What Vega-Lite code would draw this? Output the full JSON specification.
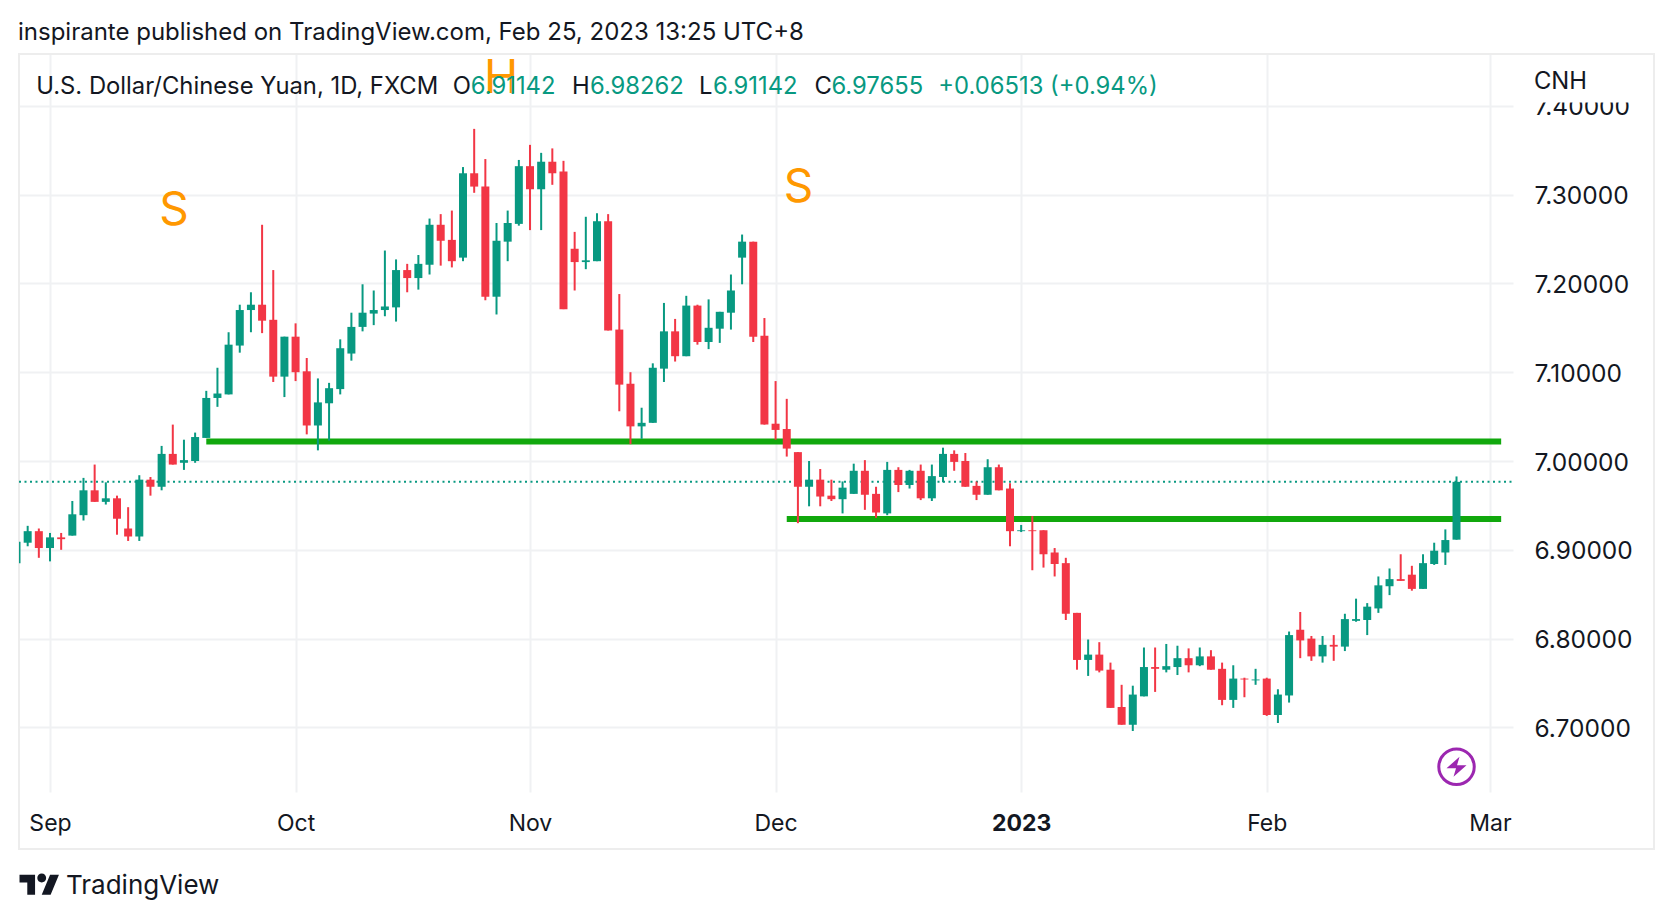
{
  "$schema": "https://vega.github.io/schema/vega-lite/v6.json",
  "autosize": "none",
  "padding": {"left": 19, "top": 54, "right": 161, "bottom": 126},
  "width": 1494,
  "height": 738,
  "background": "white",
  "title": {"text": "inspirante published on TradingView.com, Feb 25, 2023 13:25 UTC+8", "anchor": "start", "offset": 8, "font": "Inter", "fontSize": 24, "fontWeight": "normal", "color": "#131722"},
  "datasets": {
    "candles": [
      {"bar":-3,"open":6.885,"high":6.909,"low":6.885,"close":6.909},
      {"bar":-2,"open":6.908,"high":6.927,"low":6.904,"close":6.921},
      {"bar":-1,"open":6.921,"high":6.924,"low":6.891,"close":6.902},
      {"bar":0,"open":6.902,"high":6.919,"low":6.887,"close":6.914},
      {"bar":1,"open":6.914,"high":6.919,"low":6.900,"close":6.912},
      {"bar":2,"open":6.916,"high":6.955,"low":6.916,"close":6.940},
      {"bar":3,"open":6.939,"high":6.981,"low":6.933,"close":6.967},
      {"bar":4,"open":6.967,"high":6.996,"low":6.954,"close":6.954},
      {"bar":5,"open":6.954,"high":6.976,"low":6.951,"close":6.958},
      {"bar":6,"open":6.958,"high":6.961,"low":6.917,"close":6.935},
      {"bar":7,"open":6.924,"high":6.948,"low":6.910,"close":6.915},
      {"bar":8,"open":6.915,"high":6.984,"low":6.910,"close":6.979},
      {"bar":9,"open":6.979,"high":6.982,"low":6.961,"close":6.971},
      {"bar":10,"open":6.971,"high":7.017,"low":6.967,"close":7.008},
      {"bar":11,"open":7.008,"high":7.041,"low":6.996,"close":6.996},
      {"bar":12,"open":6.998,"high":7.024,"low":6.990,"close":7.001},
      {"bar":13,"open":7.000,"high":7.032,"low":6.998,"close":7.027},
      {"bar":14,"open":7.026,"high":7.079,"low":7.026,"close":7.071},
      {"bar":15,"open":7.071,"high":7.105,"low":7.061,"close":7.076},
      {"bar":16,"open":7.075,"high":7.145,"low":7.075,"close":7.131},
      {"bar":17,"open":7.130,"high":7.176,"low":7.122,"close":7.170},
      {"bar":18,"open":7.170,"high":7.190,"low":7.145,"close":7.176},
      {"bar":19,"open":7.176,"high":7.266,"low":7.144,"close":7.158},
      {"bar":20,"open":7.159,"high":7.215,"low":7.089,"close":7.095},
      {"bar":21,"open":7.095,"high":7.140,"low":7.072,"close":7.140},
      {"bar":22,"open":7.140,"high":7.155,"low":7.090,"close":7.100},
      {"bar":23,"open":7.101,"high":7.116,"low":7.030,"close":7.040},
      {"bar":24,"open":7.040,"high":7.093,"low":7.012,"close":7.066},
      {"bar":25,"open":7.065,"high":7.088,"low":7.023,"close":7.082},
      {"bar":26,"open":7.081,"high":7.137,"low":7.075,"close":7.127},
      {"bar":27,"open":7.121,"high":7.167,"low":7.113,"close":7.151},
      {"bar":28,"open":7.151,"high":7.199,"low":7.146,"close":7.167},
      {"bar":29,"open":7.166,"high":7.192,"low":7.153,"close":7.170},
      {"bar":30,"open":7.170,"high":7.237,"low":7.163,"close":7.174},
      {"bar":31,"open":7.173,"high":7.227,"low":7.157,"close":7.215},
      {"bar":32,"open":7.215,"high":7.222,"low":7.190,"close":7.206},
      {"bar":33,"open":7.206,"high":7.232,"low":7.193,"close":7.222},
      {"bar":34,"open":7.221,"high":7.273,"low":7.210,"close":7.266},
      {"bar":35,"open":7.266,"high":7.278,"low":7.220,"close":7.248},
      {"bar":36,"open":7.249,"high":7.282,"low":7.218,"close":7.225},
      {"bar":37,"open":7.229,"high":7.331,"low":7.225,"close":7.324},
      {"bar":38,"open":7.324,"high":7.374,"low":7.302,"close":7.309},
      {"bar":39,"open":7.309,"high":7.340,"low":7.181,"close":7.185},
      {"bar":40,"open":7.185,"high":7.268,"low":7.165,"close":7.248},
      {"bar":41,"open":7.247,"high":7.282,"low":7.225,"close":7.268},
      {"bar":42,"open":7.267,"high":7.339,"low":7.265,"close":7.332},
      {"bar":43,"open":7.332,"high":7.356,"low":7.260,"close":7.306},
      {"bar":44,"open":7.306,"high":7.347,"low":7.260,"close":7.337},
      {"bar":45,"open":7.337,"high":7.352,"low":7.311,"close":7.324},
      {"bar":46,"open":7.326,"high":7.338,"low":7.171,"close":7.171},
      {"bar":47,"open":7.239,"high":7.258,"low":7.192,"close":7.224},
      {"bar":48,"open":7.224,"high":7.275,"low":7.216,"close":7.226},
      {"bar":49,"open":7.225,"high":7.279,"low":7.225,"close":7.270},
      {"bar":50,"open":7.270,"high":7.278,"low":7.147,"close":7.147},
      {"bar":51,"open":7.148,"high":7.188,"low":7.056,"close":7.086},
      {"bar":52,"open":7.087,"high":7.100,"low":7.019,"close":7.039},
      {"bar":53,"open":7.039,"high":7.060,"low":7.025,"close":7.043},
      {"bar":54,"open":7.043,"high":7.110,"low":7.043,"close":7.105},
      {"bar":55,"open":7.104,"high":7.178,"low":7.089,"close":7.146},
      {"bar":56,"open":7.146,"high":7.160,"low":7.112,"close":7.118},
      {"bar":57,"open":7.118,"high":7.186,"low":7.118,"close":7.175},
      {"bar":58,"open":7.175,"high":7.176,"low":7.131,"close":7.134},
      {"bar":59,"open":7.134,"high":7.182,"low":7.126,"close":7.150},
      {"bar":60,"open":7.149,"high":7.168,"low":7.133,"close":7.168},
      {"bar":61,"open":7.167,"high":7.210,"low":7.148,"close":7.192},
      {"bar":62,"open":7.229,"high":7.255,"low":7.199,"close":7.247},
      {"bar":63,"open":7.247,"high":7.247,"low":7.134,"close":7.140},
      {"bar":64,"open":7.141,"high":7.161,"low":7.041,"close":7.041},
      {"bar":65,"open":7.042,"high":7.090,"low":7.024,"close":7.035},
      {"bar":66,"open":7.036,"high":7.070,"low":7.005,"close":7.014},
      {"bar":67,"open":7.010,"high":7.010,"low":6.930,"close":6.971},
      {"bar":68,"open":6.971,"high":7.000,"low":6.949,"close":6.979},
      {"bar":69,"open":6.979,"high":6.991,"low":6.949,"close":6.960},
      {"bar":70,"open":6.961,"high":6.979,"low":6.955,"close":6.957},
      {"bar":71,"open":6.957,"high":6.977,"low":6.941,"close":6.970},
      {"bar":72,"open":6.963,"high":6.997,"low":6.963,"close":6.989},
      {"bar":73,"open":6.989,"high":7.001,"low":6.945,"close":6.962},
      {"bar":74,"open":6.963,"high":6.971,"low":6.936,"close":6.942},
      {"bar":75,"open":6.941,"high":6.999,"low":6.939,"close":6.990},
      {"bar":76,"open":6.990,"high":6.993,"low":6.965,"close":6.973},
      {"bar":77,"open":6.973,"high":6.990,"low":6.969,"close":6.989},
      {"bar":78,"open":6.989,"high":6.996,"low":6.956,"close":6.958},
      {"bar":79,"open":6.958,"high":6.996,"low":6.955,"close":6.983},
      {"bar":80,"open":6.982,"high":7.015,"low":6.976,"close":7.008},
      {"bar":81,"open":7.008,"high":7.012,"low":6.989,"close":6.999},
      {"bar":82,"open":7.000,"high":7.009,"low":6.971,"close":6.971},
      {"bar":83,"open":6.972,"high":6.977,"low":6.956,"close":6.962},
      {"bar":84,"open":6.962,"high":7.002,"low":6.962,"close":6.993},
      {"bar":85,"open":6.993,"high":6.996,"low":6.967,"close":6.967},
      {"bar":86,"open":6.969,"high":6.975,"low":6.904,"close":6.921},
      {"bar":87,"open":6.921,"high":6.928,"low":6.920,"close":6.922},
      {"bar":88,"open":6.922,"high":6.938,"low":6.877,"close":6.921},
      {"bar":89,"open":6.922,"high":6.922,"low":6.880,"close":6.895},
      {"bar":90,"open":6.897,"high":6.902,"low":6.870,"close":6.884},
      {"bar":91,"open":6.885,"high":6.891,"low":6.821,"close":6.828},
      {"bar":92,"open":6.829,"high":6.829,"low":6.765,"close":6.776},
      {"bar":93,"open":6.776,"high":6.799,"low":6.758,"close":6.782},
      {"bar":94,"open":6.782,"high":6.796,"low":6.762,"close":6.764},
      {"bar":95,"open":6.765,"high":6.773,"low":6.722,"close":6.722},
      {"bar":96,"open":6.723,"high":6.748,"low":6.703,"close":6.703},
      {"bar":97,"open":6.703,"high":6.747,"low":6.696,"close":6.737},
      {"bar":98,"open":6.735,"high":6.790,"low":6.735,"close":6.768},
      {"bar":99,"open":6.768,"high":6.790,"low":6.740,"close":6.766},
      {"bar":100,"open":6.765,"high":6.794,"low":6.762,"close":6.769},
      {"bar":101,"open":6.768,"high":6.792,"low":6.759,"close":6.778},
      {"bar":102,"open":6.778,"high":6.789,"low":6.762,"close":6.770},
      {"bar":103,"open":6.770,"high":6.790,"low":6.769,"close":6.780},
      {"bar":104,"open":6.780,"high":6.787,"low":6.765,"close":6.765},
      {"bar":105,"open":6.766,"high":6.773,"low":6.725,"close":6.731},
      {"bar":106,"open":6.731,"high":6.770,"low":6.722,"close":6.755},
      {"bar":107,"open":6.755,"high":6.756,"low":6.734,"close":6.754},
      {"bar":108,"open":6.753,"high":6.766,"low":6.748,"close":6.754},
      {"bar":109,"open":6.755,"high":6.756,"low":6.713,"close":6.714},
      {"bar":110,"open":6.714,"high":6.743,"low":6.705,"close":6.737},
      {"bar":111,"open":6.736,"high":6.808,"low":6.728,"close":6.804},
      {"bar":112,"open":6.810,"high":6.830,"low":6.778,"close":6.798},
      {"bar":113,"open":6.800,"high":6.803,"low":6.775,"close":6.780},
      {"bar":114,"open":6.780,"high":6.803,"low":6.773,"close":6.793},
      {"bar":115,"open":6.793,"high":6.804,"low":6.775,"close":6.791},
      {"bar":116,"open":6.791,"high":6.828,"low":6.786,"close":6.822},
      {"bar":117,"open":6.820,"high":6.845,"low":6.819,"close":6.822},
      {"bar":118,"open":6.821,"high":6.840,"low":6.804,"close":6.836},
      {"bar":119,"open":6.834,"high":6.870,"low":6.829,"close":6.860},
      {"bar":120,"open":6.859,"high":6.879,"low":6.849,"close":6.867},
      {"bar":121,"open":6.867,"high":6.895,"low":6.865,"close":6.865},
      {"bar":122,"open":6.872,"high":6.882,"low":6.854,"close":6.856},
      {"bar":123,"open":6.856,"high":6.895,"low":6.856,"close":6.885},
      {"bar":124,"open":6.884,"high":6.908,"low":6.883,"close":6.899},
      {"bar":125,"open":6.897,"high":6.923,"low":6.883,"close":6.911},
      {"bar":126,"open":6.91142,"high":6.98262,"low":6.91142,"close":6.97655}
    ],
    "levels": [
      {"price":7.022,"from":14,"to":130},
      {"price":6.9346,"from":66,"to":130}
    ]
  },
  "data": {"values": [{"bar": 126, "close": 6.97655}]},
  "config": {
    "view": {"stroke": null},
    "text": {"font": "Inter", "fontSize": 23.8, "fontWeight": "normal", "fill": "#131722", "stroke": null, "align": "left", "baseline": "middle"}
  },
  "encoding": {
    "x": {
      "field": "bar",
      "type": "quantitative",
      "scale": {"domain": [-2.777, 131.06], "nice": false, "zero": false, "padding": 0},
      "axis": {
        "title": null,
        "values": [0, 22, 43, 65, 87, 109, 129],
        "labelExpr": "{'0':'Sep','22':'Oct','43':'Nov','65':'Dec','87':'2023','109':'Feb','129':'Mar'}[datum.value]",
        "labelFont": "Inter",
        "labelFontSize": 23,
        "labelFontWeight": {"condition": {"test": "datum.value == 87", "value": "bold"}, "value": "normal"},
        "labelColor": "#131722",
        "labelPadding": 20,
        "labelFlush": false,
        "labelOverlap": false,
        "domain": false,
        "ticks": false,
        "grid": true,
        "gridColor": "#f0f1f3",
        "gridWidth": 2
      }
    },
    "y": {
      "type": "quantitative",
      "scale": {"domain": [6.6273, 7.4583], "nice": false, "zero": false},
      "axis": {
        "title": null,
        "orient": "right",
        "values": [6.7, 6.8, 6.9, 7.0, 7.1, 7.2, 7.3, 7.4],
        "format": ".5f",
        "labelFont": "Inter",
        "labelFontSize": 24.5,
        "labelColor": "#131722",
        "labelPadding": 21,
        "labelOffset": 2,
        "domain": false,
        "ticks": false,
        "grid": true,
        "gridColor": "#f0f1f3",
        "gridWidth": 2
      }
    }
  },
  "layer": [
    {
      "mark": {"type": "rect", "fill": null, "stroke": "#ededed", "strokeWidth": 2},
      "encoding": {
        "x": {"datum": -2.777},
        "x2": {"datum": 143.69},
        "y": {"datum": 7.4583},
        "y2": {"datum": 6.5631}
      }
    },
    {
      "mark": {"type": "rule", "color": "#089981", "strokeWidth": 2, "strokeDash": [2, 3.5]},
      "encoding": {
        "x": {"datum": -2.777},
        "x2": {"datum": 131.06},
        "y": {"field": "close", "type": "quantitative"}
      }
    },
    {
      "data": {"name": "levels"},
      "mark": {"type": "rule", "color": "#11a80d", "strokeWidth": 6},
      "encoding": {
        "x": {"field": "from", "type": "quantitative"},
        "x2": {"field": "to"},
        "y": {"field": "price", "type": "quantitative"}
      }
    },
    {
      "data": {"name": "candles"},
      "mark": {"type": "rule", "strokeWidth": 2, "clip": true},
      "encoding": {
        "y": {"field": "low", "type": "quantitative"},
        "y2": {"field": "high"},
        "color": {"condition": {"test": "datum.close >= datum.open", "value": "#089981"}, "value": "#f23645"}
      }
    },
    {
      "data": {"name": "candles"},
      "mark": {"type": "bar", "size": 8, "orient": "vertical", "clip": true},
      "encoding": {
        "y": {"field": "open", "type": "quantitative"},
        "y2": {"field": "close"},
        "color": {"condition": {"test": "datum.close >= datum.open", "value": "#089981"}, "value": "#f23645"}
      }
    },
    {
      "mark": {"type": "rect", "fill": "white", "stroke": null},
      "encoding": {
        "x": {"datum": 131.3},
        "x2": {"datum": 143.4},
        "y": {"datum": 7.45},
        "y2": {"datum": 7.4037}
      }
    },
    {
      "mark": {"type": "text", "fill": "#ff9800", "fontSize": 46, "align": "center"},
      "encoding": {"x": {"datum": 11.1}, "y": {"datum": 7.2815}, "text": {"value": "S"}}
    },
    {
      "mark": {"type": "text", "fill": "#ff9800", "fontSize": 46, "align": "center"},
      "encoding": {"x": {"datum": 67.05}, "y": {"datum": 7.3077}, "text": {"value": "S"}}
    },
    {
      "mark": {"type": "text", "fill": "#ff9800", "fontSize": 46, "align": "center"},
      "encoding": {"x": {"datum": 40.4}, "y": {"datum": 7.43}, "text": {"value": "H"}}
    },
    {
      "mark": {"type": "text"},
      "encoding": {"x": {"datum": -1.227}, "y": {"datum": 7.4212}, "text": {"value": "U.S. Dollar/Chinese Yuan, 1D, FXCM"}}
    },
    {
      "mark": {"type": "text"},
      "encoding": {"x": {"datum": 36.07}, "y": {"datum": 7.4212}, "text": {"value": "O"}}
    },
    {
      "mark": {"type": "text"},
      "encoding": {"x": {"datum": 46.76}, "y": {"datum": 7.4212}, "text": {"value": "H"}}
    },
    {
      "mark": {"type": "text"},
      "encoding": {"x": {"datum": 58.14}, "y": {"datum": 7.4212}, "text": {"value": "L"}}
    },
    {
      "mark": {"type": "text"},
      "encoding": {"x": {"datum": 68.49}, "y": {"datum": 7.4212}, "text": {"value": "C"}}
    },
    {
      "mark": {"type": "text", "fill": "#089981"},
      "encoding": {"x": {"datum": 37.7}, "y": {"datum": 7.4212}, "text": {"value": "6.91142"}}
    },
    {
      "mark": {"type": "text", "fill": "#089981"},
      "encoding": {"x": {"datum": 48.37}, "y": {"datum": 7.4212}, "text": {"value": "6.98262"}}
    },
    {
      "mark": {"type": "text", "fill": "#089981"},
      "encoding": {"x": {"datum": 59.39}, "y": {"datum": 7.4212}, "text": {"value": "6.91142"}}
    },
    {
      "mark": {"type": "text", "fill": "#089981"},
      "encoding": {"x": {"datum": 70.0}, "y": {"datum": 7.4212}, "text": {"value": "6.97655"}}
    },
    {
      "mark": {"type": "text", "fill": "#089981"},
      "encoding": {"x": {"datum": 79.58}, "y": {"datum": 7.4212}, "text": {"value": "+0.06513 (+0.94%)"}}
    },
    {
      "mark": {"type": "text"},
      "encoding": {"x": {"datum": 132.94}, "y": {"datum": 7.4265}, "text": {"value": "CNH"}}
    },
    {
      "mark": {"type": "point", "shape": "circle", "size": 1257, "filled": false, "color": "#9c27b0", "strokeWidth": 3, "opacity": 1},
      "encoding": {"x": {"datum": 126}, "y": {"datum": 6.6557}}
    },
    {
      "mark": {"type": "point", "shape": "M.3 -1L-1 .15L-.05 .15L-.3 1L1 -.15L.05 -.15Z", "size": 400, "filled": true, "color": "#9c27b0", "opacity": 1},
      "encoding": {"x": {"datum": 126}, "y": {"datum": 6.6557}}
    },
    {
      "mark": {"type": "point", "shape": "M-.222 .5H-.611V-.111H-1V-.5H-.222ZM.556 .5H.111L.528 -.5H.972ZM-.111 -.333a.222 .222 0 1 0 .444 0a.222 .222 0 1 0 -.444 0Z", "size": 1600, "filled": true, "color": "#131722", "opacity": 1},
      "encoding": {"x": {"datum": -0.94}, "y": {"datum": 6.523}}
    },
    {
      "mark": {"type": "text", "fontSize": 26},
      "encoding": {"x": {"datum": 1.43}, "y": {"datum": 6.5214}, "text": {"value": "TradingView"}}
    }
  ]
}
